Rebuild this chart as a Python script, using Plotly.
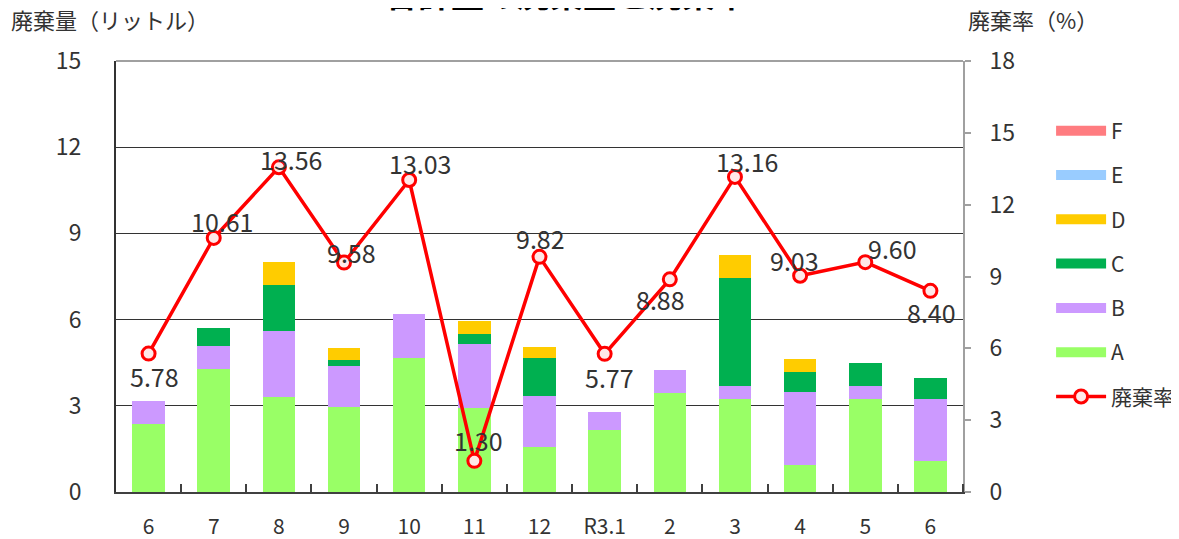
import plotly.graph_objects as go

months = ["6", "7", "8", "9", "10", "11", "12", "R3.1", "2", "3", "4", "5", "6"]
a_vals = [2.36, 4.28, 3.30, 2.96, 4.68, 2.92, 1.55, 2.16, 3.44, 3.24, 0.93, 3.24, 1.08]
b_vals = [0.80, 0.81, 2.31, 1.43, 1.50, 2.22, 1.79, 0.62, 0.81, 0.44, 2.55, 0.44, 2.16]
c_vals = [0.00, 0.61, 1.61, 0.19, 0.00, 0.37, 1.34, 0.00, 0.00, 3.77, 0.71, 0.80, 0.72]
d_vals = [0.00, 0.00, 0.80, 0.42, 0.00, 0.45, 0.37, 0.00, 0.00, 0.81, 0.43, 0.00, 0.00]
e_vals = [0.0] * 13
f_vals = [0.0] * 13
rate = [5.78, 10.61, 13.56, 9.58, 13.03, 1.30, 9.82, 5.77, 8.88, 13.16, 9.03, 9.60, 8.40]

# label offsets in pixels (style only): (x shift, y shift upward)
label_dx = [6, 8, 12, 7, 11, 4, 1, 5, -9, 12, -6, 27, 1]
label_dy = [-22, 17, 8, 11, 17, 21, 19, -23, -20, 16, 16, 14, -21]

FONT = "Noto Sans CJK JP"
x = list(range(len(months)))

fig = go.Figure()
series = [("A", a_vals, "#99ff66"), ("B", b_vals, "#cc99ff"), ("C", c_vals, "#00b050"),
          ("D", d_vals, "#ffcc00"), ("E", e_vals, "#99ccff"), ("F", f_vals, "#ff7c80")]
for i, (name, vals, col) in enumerate(series):
    fig.add_trace(go.Bar(x=x, y=vals, name=name, marker=dict(color=col, line=dict(width=0)),
                         showlegend=False, yaxis="y"))
    # legend proxy with wide rectangle symbol
    fig.add_trace(go.Scatter(x=[None], y=[None], name=name, mode="lines",
                             line=dict(color=col, width=13), legendrank=10 - i,
                             legendgroup=name, showlegend=True, yaxis="y"))

fig.add_trace(go.Scatter(
    x=x, y=rate, name="廃棄率", yaxis="y2", mode="lines+markers",
    line=dict(color="#ff0000", width=3.5),
    marker=dict(symbol="circle", size=13, color="#ffe8e8", line=dict(color="#ff0000", width=3)),
    legendrank=20, legendgroup="rate", cliponaxis=False,
))

annotations = [
    dict(text="廃棄量（リットル）", xref="paper", yref="paper", x=-0.126, y=1.055,
         xanchor="left", yanchor="bottom", showarrow=False,
         font=dict(size=22, family=FONT, color="#333333")),
    dict(text="廃棄率（%）", xref="paper", yref="paper", x=1.003, y=1.055,
         xanchor="left", yanchor="bottom", showarrow=False,
         font=dict(size=22, family=FONT, color="#333333")),
    dict(text="<b>合計量の廃棄量と廃棄率</b>", xref="paper", yref="paper", x=0.532, y=1.098,
         xanchor="center", yanchor="bottom", showarrow=False,
         font=dict(size=33, family=FONT, color="#000000")),
]
for xi, v, dx, dy in zip(x, rate, label_dx, label_dy):
    annotations.append(dict(text=f"{v:.2f}", x=xi, y=v, xref="x", yref="y2",
                            xanchor="center", yanchor="middle", xshift=dx, yshift=dy,
                            showarrow=False, font=dict(size=25, family=FONT, color="#333333")))

fig.update_layout(
    width=1171, height=531,
    margin=dict(l=108, r=216, t=53, b=47, autoexpand=False),
    paper_bgcolor="white", plot_bgcolor="white",
    barmode="stack", bargap=0.5,
    font=dict(family=FONT, size=20, color="#333333"),
    showlegend=True,
    legend=dict(x=1.104, y=0.885, xanchor="left", yanchor="top", traceorder="grouped",
                tracegroupgap=14, font=dict(size=21, family=FONT, color="#333333"),
                itemwidth=50, bgcolor="rgba(0,0,0,0)"),
    xaxis=dict(range=[-0.5, 12.5], tickmode="array", tickvals=x, ticktext=months,
               ticks="", showline=True, linecolor="#404040", linewidth=2,
               tickfont=dict(size=21, family=FONT), ticklabelstandoff=15,
               minor=dict(tickmode="array", tickvals=[i + 0.5 for i in range(13)],
                          ticks="inside", ticklen=8, tickwidth=1.5, tickcolor="#404040"),
               showgrid=False, zeroline=False, fixedrange=True),
    yaxis=dict(range=[0, 15], tickmode="array", tickvals=[0, 3, 6, 9, 12, 15],
               showgrid=True, gridcolor="#333333", gridwidth=1.2,
               showline=True, linecolor="#333333", linewidth=2, ticks="",
               tickfont=dict(size=23, family=FONT), ticklabelstandoff=28,
               zeroline=False, fixedrange=True),
    yaxis2=dict(range=[0, 18], tickmode="array", tickvals=[0, 3, 6, 9, 12, 15, 18],
                overlaying="y", side="right", showgrid=False,
                showline=True, linecolor="#a0a0a0", linewidth=2,
                ticks="outside", ticklen=6, tickcolor="#a0a0a0", tickwidth=2,
                tickfont=dict(size=23, family=FONT), ticklabelstandoff=14,
                zeroline=False, fixedrange=True),
    shapes=[dict(type="line", xref="paper", yref="paper", x0=0, x1=1, y0=1, y1=1,
                 line=dict(color="#a0a0a0", width=2))],
    annotations=annotations,
)

fig.write_html("out.html")
